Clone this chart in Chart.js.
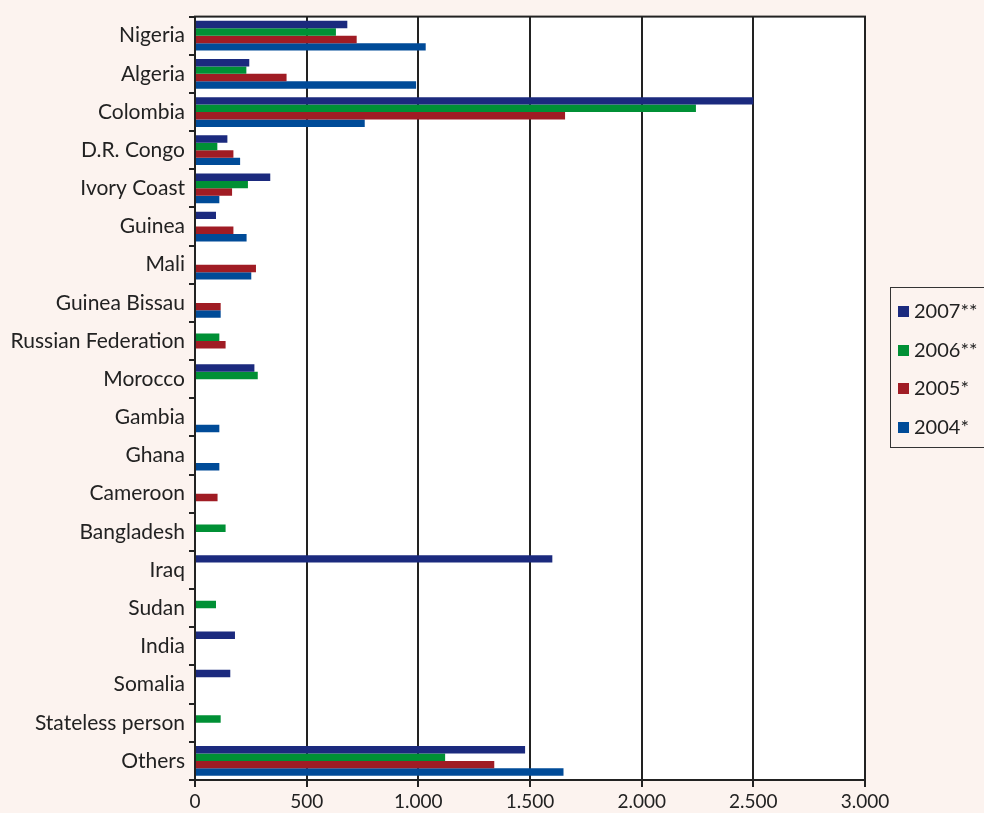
<!DOCTYPE html>
<html>
<head>
<meta charset="utf-8">
<script src="https://cdn.jsdelivr.net/npm/chart.js@4"></script>
<style>
  html, body { margin: 0; padding: 0; background: #fcf3ef; overflow: hidden; }
  #wrap { position: relative; width: 984px; height: 813px; }
  #legend {
    position: absolute; left: 890px; top: 287px; width: 120px; height: 161px;
    border: 1px solid #333; box-sizing: border-box; font-family: Lato, sans-serif;
    font-size: 20px; color: #222;
  }
  #legend div { position: absolute; left: 7px; white-space: nowrap; }
  #legend span { display: inline-block; width: 11px; height: 11px; margin-right: 5px; vertical-align: 1px; }
</style>
</head>
<body>
<div id="wrap">
  <canvas id="refugeeChart" width="984" height="813"></canvas>
  <div id="legend"></div>
</div>
<script>
const countries = ['Nigeria', 'Algeria', 'Colombia', 'D.R. Congo', 'Ivory Coast', 'Guinea', 'Mali',
    'Guinea Bissau', 'Russian Federation', 'Morocco', 'Gambia', 'Ghana', 'Cameroon', 'Bangladesh',
    'Iraq', 'Sudan', 'India', 'Somalia', 'Stateless person', 'Others'];

const seriesLabels = ['2007**', '2006**', '2005*', '2004*'];
const seriesColors = ['#1b2a7e', '#009035', '#a01c24', '#004b98'];

const values2007 = [682, 243, 2500, 145, 337, 94, 0, 0, 0, 266, 0, 0, 0, 0, 1600, 0, 179, 158, 0, 1478];
const values2006 = [631, 230, 2243, 100, 237, 0, 0, 0, 109, 281, 0, 0, 0, 137, 0, 94, 0, 0, 115, 1120];
const values2005 = [724, 410, 1657, 172, 166, 172, 273, 115, 137, 0, 0, 0, 101, 0, 0, 0, 0, 0, 0, 1340];
const values2004 = [1033, 990, 760, 202, 109, 231, 252, 115, 0, 0, 109, 109, 0, 0, 0, 0, 0, 0, 0, 1650];

const xTicks = [0, 500, 1000, 1500, 2000, 2500, 3000];

const allValues = [values2007, values2006, values2005, values2004];

// white plot area and full frame round it
const plotFrame = {
    id: 'plotFrame',
    beforeDraw(chart) {
        const { ctx, chartArea: a } = chart;
        ctx.save();
        ctx.fillStyle = '#ffffff';
        ctx.fillRect(a.left, a.top, a.right - a.left, a.bottom - a.top);
        ctx.restore();
    },
    afterDraw(chart) {
        const { ctx, chartArea: a } = chart;
        ctx.save();
        ctx.strokeStyle = '#222';
        ctx.lineWidth = 2;
        ctx.strokeRect(a.left, a.top, a.right - a.left, a.bottom - a.top);
        ctx.restore();
    }
};

const ctx = document.getElementById('refugeeChart');
const chart = new Chart(ctx, {
    type: 'bar',
    data: {
        labels: countries,
        datasets: seriesLabels.map((label, i) => ({
            label: label,
            data: allValues[i],
            backgroundColor: seriesColors[i],
            borderWidth: 0,
            barPercentage: 1,
            categoryPercentage: 0.78
        }))
    },
    options: {
        indexAxis: 'y',
        responsive: false,
        animation: false,
        layout: { padding: { top: 11, right: 119, left: 0, bottom: 0 } },
        scales: {
            x: {
                min: 0,
                max: 3000,
                afterFit: s => { s.height = 33; },
                afterBuildTicks: s => { s.ticks = xTicks.map(v => ({ value: v })); },
                grid: { color: '#222', lineWidth: 2, tickLength: 7, drawTicks: true },
                border: { display: false },
                ticks: {
                    color: '#222',
                    padding: 3,
                    font: { family: 'Lato', size: 19 },
                    callback: v => v.toLocaleString('de-DE')
                }
            },
            y: {
                afterFit: s => { s.width = 195; },
                grid: { offset: true, drawOnChartArea: false, color: '#222', lineWidth: 2, tickLength: 6 },
                border: { display: false },
                ticks: {
                    color: '#222',
                    padding: 4,
                    autoSkip: false,
                    font: { family: 'Lato', size: 21 }
                }
            }
        },
        plugins: {
            legend: { display: false },
            tooltip: { enabled: false }
        }
    },
    plugins: [plotFrame]
});

const legendBox = document.getElementById('legend');
chart.data.datasets.forEach((ds, i) => {
    const row = document.createElement('div');
    row.style.top = (10 + i * 38.5) + 'px';
    row.innerHTML = '<span style="background:' + ds.backgroundColor + '"></span>' + ds.label;
    legendBox.appendChild(row);
});
</script>
</body>
</html>
